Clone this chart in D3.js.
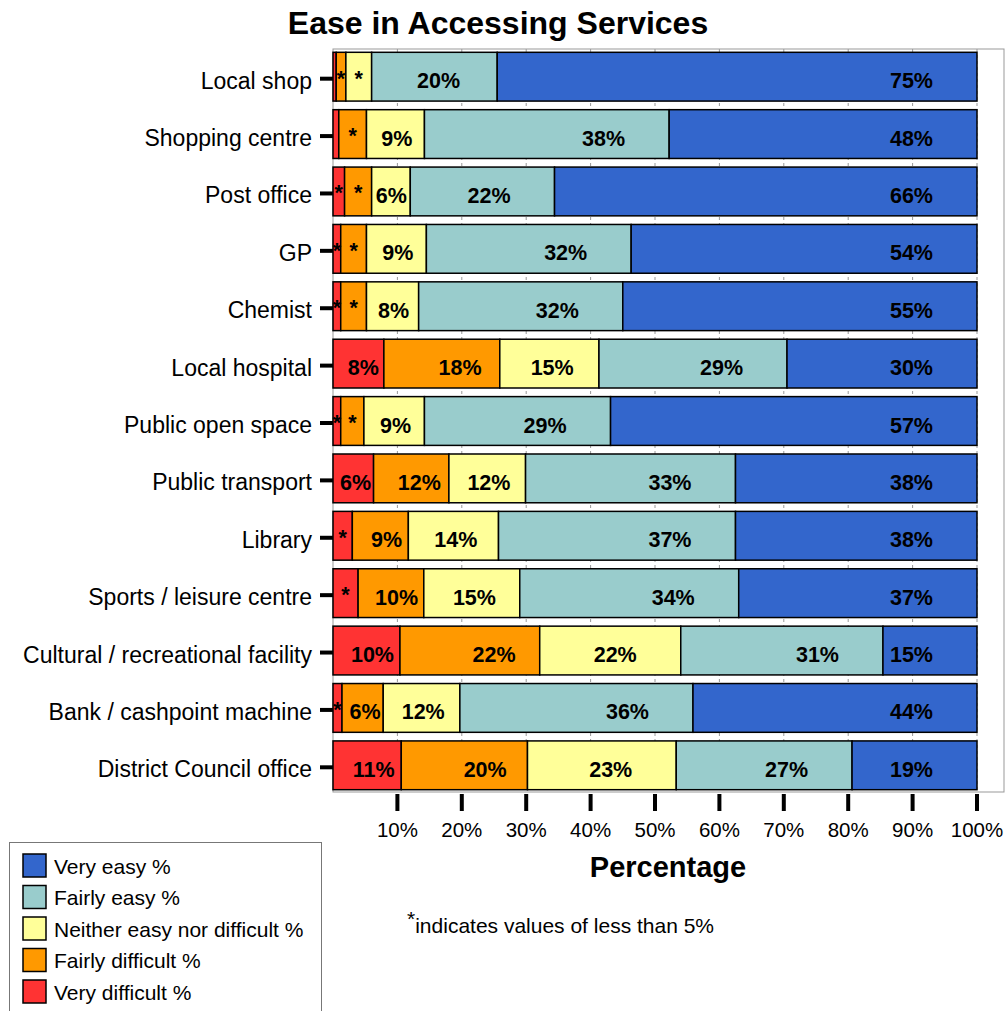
<!DOCTYPE html>
<html>
<head>
<meta charset="utf-8">
<script src="https://cdn.jsdelivr.net/npm/d3@7"></script>
<style>
  html, body { margin: 0; padding: 0; background: #fff; }
  svg { display: block; font-family: "Liberation Sans", Arial, sans-serif; }
</style>
</head>
<body>
<svg id="chart" width="1008" height="1011"></svg>
<script>
// Services asked about, top to bottom
const categories = [
  "Local shop", "Shopping centre", "Post office", "GP", "Chemist",
  "Local hospital", "Public open space", "Public transport", "Library",
  "Sports / leisure centre", "Cultural / recreational facility",
  "Bank / cashpoint machine", "District Council office"
];

// Percentage of respondents per answer, one array per answer (same order as categories)
const veryDifficult    = [0.5, 0.9, 1.8, 1.2, 1.2, 7.9, 1.2, 6.3, 3.0, 3.9, 10.4, 1.4, 10.6];
const fairlyDifficult  = [1.5, 4.3, 4.2, 4.0, 4.0, 18.0, 3.6, 11.7, 8.7, 10.2, 21.7, 6.4, 19.6];
const neitherNor       = [4.0, 9.0, 6.0, 9.3, 8.1, 15.4, 9.4, 11.9, 14.0, 14.9, 21.9, 11.9, 23.1];
const fairlyEasy       = [19.5, 38.0, 22.4, 31.8, 31.7, 29.2, 28.9, 32.6, 36.8, 34.0, 31.4, 36.2, 27.3];
const veryEasy         = [74.5, 47.8, 65.6, 53.7, 55.0, 29.5, 56.9, 37.5, 37.5, 37.0, 14.6, 44.1, 19.4];

// Stacking order (left to right) and legend names
const seriesKeys   = ["vd", "fd", "ne", "fe", "ve"];
const seriesNames  = ["Very difficult %", "Fairly difficult %", "Neither easy nor difficult %", "Fairly easy %", "Very easy %"];
const seriesValues = [veryDifficult, fairlyDifficult, neitherNor, fairlyEasy, veryEasy];
const seriesColors = ["#ff3333", "#ff9900", "#ffff99", "#99cccc", "#3366cc"];

const xTicks = [10, 20, 30, 40, 50, 60, 70, 80, 90, 100];

// Build rows for d3.stack
const rows = categories.map((c, i) => {
  const r = { category: c };
  seriesKeys.forEach((k, j) => { r[k] = seriesValues[j][i]; });
  return r;
});

const svg = d3.select("#chart");
const plot = { left: 333, right: 1004, top: 49, bottom: 792 };

const x = d3.scaleLinear().domain([0, 100]).range([333, 977]);
const y = d3.scaleBand().domain(categories).range([48, 794])
  .paddingInner(0.15).paddingOuter(0.075);

// Title
svg.append("text")
  .attr("x", 498).attr("y", 34)
  .attr("text-anchor", "middle")
  .attr("font-size", 32).attr("font-weight", "bold")
  .text("Ease in Accessing Services");

// Plot frame
svg.append("rect")
  .attr("x", plot.left).attr("y", plot.top)
  .attr("width", plot.right - plot.left).attr("height", plot.bottom - plot.top)
  .attr("fill", "none").attr("stroke", "#999").attr("stroke-width", 1);

// Dashed vertical gridlines
svg.append("g").selectAll("line")
  .data(xTicks)
  .join("line")
  .attr("x1", d => x(d)).attr("x2", d => x(d))
  .attr("y1", plot.top).attr("y2", plot.bottom)
  .attr("stroke", "#999").attr("stroke-width", 1)
  .attr("stroke-dasharray", "3,3");

// Stacked bars
const stacked = d3.stack().keys(seriesKeys)(rows);

const layers = svg.append("g").selectAll("g")
  .data(stacked)
  .join("g")
  .attr("fill", (d, i) => seriesColors[i]);

layers.selectAll("rect")
  .data(d => d)
  .join("rect")
  .attr("x", d => x(d[0]))
  .attr("y", d => y(d.data.category))
  .attr("width", d => x(d[1]) - x(d[0]))
  .attr("height", y.bandwidth())
  .attr("stroke", "#000").attr("stroke-width", 1.5);

// Value labels: "*" for shares under 5%, nothing for slivers under 1%
function labelText(v) {
  if (v < 1) return "";
  if (v < 5) return "*";
  return Math.round(v) + "%";
}

const labelG = svg.append("g")
  .attr("font-size", 21.5).attr("font-weight", "bold").attr("fill", "#000");

stacked.forEach((layer, si) => {
  layer.forEach(d => {
    const v = d[1] - d[0];
    const t = labelText(v);
    if (!t) return;
    const x0 = x(d[0]), x1 = x(d[1]), w = x1 - x0;
    const cy = y(d.data.category) + y.bandwidth() / 2;
    const node = labelG.append("text").attr("y", cy + 11.5).text(t);
    if (t === "*") {
      node.attr("x", (x0 + x1) / 2).attr("text-anchor", "middle").attr("y", cy + 9);
      return;
    }
    const tw = node.node().getComputedTextLength();
    let gap;
    if (si === 4) gap = 44;
    else if (si >= 2) gap = Math.min(44, Math.max(2, (w - tw) * 0.45));
    else gap = Math.min(44, Math.max(2, (w - tw) * 0.25));
    node.attr("x", x1 - gap).attr("text-anchor", "end");
  });
});

// Category axis: labels and heavy ticks
const catG = svg.append("g");
catG.selectAll("line")
  .data(categories)
  .join("line")
  .attr("x1", 320).attr("x2", 333)
  .attr("y1", d => y(d) + y.bandwidth() / 2 + 2)
  .attr("y2", d => y(d) + y.bandwidth() / 2 + 2)
  .attr("stroke", "#000").attr("stroke-width", 4);
catG.selectAll("text")
  .data(categories)
  .join("text")
  .attr("x", 312)
  .attr("y", d => y(d) + y.bandwidth() / 2 + 12)
  .attr("text-anchor", "end")
  .attr("font-size", 23)
  .text(d => d);

// Percentage axis
const xAxisG = svg.append("g");
xAxisG.selectAll("line")
  .data(xTicks)
  .join("line")
  .attr("x1", d => x(d)).attr("x2", d => x(d))
  .attr("y1", 794).attr("y2", 811)
  .attr("stroke", "#000").attr("stroke-width", 4);
xAxisG.selectAll("text")
  .data(xTicks)
  .join("text")
  .attr("x", d => x(d)).attr("y", 837)
  .attr("text-anchor", "middle")
  .attr("font-size", 20.5)
  .text(d => d + "%");

svg.append("text")
  .attr("x", 668).attr("y", 877)
  .attr("text-anchor", "middle")
  .attr("font-size", 29).attr("font-weight", "bold")
  .text("Percentage");

// Footnote
const note = svg.append("text")
  .attr("x", 407).attr("y", 933)
  .attr("font-size", 21);
note.append("tspan").attr("dy", -7).text("*");
note.append("tspan").attr("dy", 7).text("indicates values of less than 5%");

// Legend (reverse stacking order, "Very easy" first)
const legend = svg.append("g");
legend.append("rect")
  .attr("x", 9.5).attr("y", 842.5)
  .attr("width", 312).attr("height", 200)
  .attr("fill", "#fff").attr("stroke", "#777").attr("stroke-width", 1);

const legendItems = d3.range(seriesKeys.length).reverse();
const li = legend.selectAll("g.item")
  .data(legendItems)
  .join("g")
  .attr("class", "item")
  .attr("transform", (d, i) => `translate(23, ${854 + i * 31.5})`);
li.append("rect")
  .attr("width", 23).attr("height", 23)
  .attr("fill", d => seriesColors[d])
  .attr("stroke", "#000").attr("stroke-width", 1.5);
li.append("text")
  .attr("x", 31).attr("y", 19.5)
  .attr("font-size", 21)
  .text(d => seriesNames[d]);
</script>
</body>
</html>
